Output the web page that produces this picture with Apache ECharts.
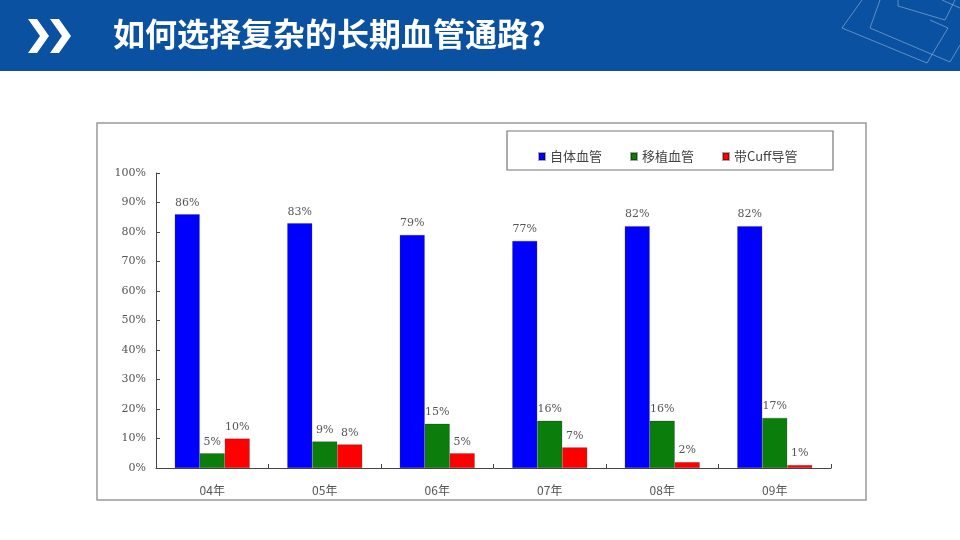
<!DOCTYPE html>
<html>
<head>
<meta charset="utf-8">
<script src="https://cdn.jsdelivr.net/npm/echarts@6/dist/echarts.min.js"></script>
<style>
  html, body { margin: 0; padding: 0; background: #fff; }
  #chart { width: 960px; height: 540px; }
</style>
</head>
<body>
<div id="chart"></div>
<script>
  var years = ['04年', '05年', '06年', '07年', '08年', '09年'];
  var autologous = [86, 83, 79, 77, 82, 82];   // 自体血管
  var graft = [5, 9, 15, 16, 16, 17];          // 移植血管
  var cuffCatheter = [10, 8, 5, 7, 2, 1];      // 带Cuff导管
  var yTicks = [0, 10, 20, 30, 40, 50, 60, 70, 80, 90, 100];

  var chart = echarts.init(document.getElementById('chart'));

  var labelFont = 'DejaVu Serif, Liberation Serif, serif';
  var thin = 'rgba(255,255,255,0.35)';

  function barSeries(name, data, color) {
    return {
      name: name,
      type: 'bar',
      data: data,
      barWidth: 25,
      barGap: '0%',
      itemStyle: { color: color, borderColor: 'rgba(0,0,0,0.35)', borderWidth: 0.6 },
      label: {
        show: true,
        position: 'top',
        distance: 6,
        formatter: '{c}%',
        color: '#555',
        fontSize: 11,
        fontFamily: labelFont
      }
    };
  }

  var option = {
    animation: false,
    backgroundColor: '#fff',
    grid: { left: 156, right: 129, top: 173, bottom: 72 },
    legend: {
      left: 533,
      top: 145,
      itemWidth: 6,
      itemHeight: 7,
      itemGap: 28,
      icon: 'rect',
      textStyle: { color: '#444', fontSize: 13, fontFamily: 'Noto Sans CJK SC' },
      data: ['自体血管', '移植血管', '带Cuff导管']
    },
    xAxis: {
      type: 'category',
      data: years,
      axisLine: { lineStyle: { color: '#444', width: 1 } },
      axisTick: { show: true, inside: true, length: 4, lineStyle: { color: '#444' } },
      axisLabel: { color: '#555', fontSize: 12, margin: 16, fontFamily: 'Noto Sans CJK SC' }
    },
    yAxis: {
      type: 'value',
      min: 0,
      max: 100,
      interval: 10,
      splitLine: { show: false },
      axisLine: { show: true, lineStyle: { color: '#444', width: 1 } },
      axisTick: { show: true, inside: true, length: 4, lineStyle: { color: '#444' } },
      axisLabel: {
        color: '#555',
        fontSize: 11,
        margin: 10,
        fontFamily: labelFont,
        formatter: function (v) { return yTicks.indexOf(v) >= 0 ? v + '%' : ''; }
      }
    },
    graphic: [
      // header bar
      { type: 'rect', shape: { x: 0, y: 0, width: 960, height: 71 }, style: { fill: '#0a52a1' }, z: 0 },
      // decorative lines
      { type: 'polyline', shape: { points: [[862, 0], [842, 28], [927, 63], [948, 28], [930, 20]] }, style: { stroke: thin, fill: null, lineWidth: 1 } },
      { type: 'polyline', shape: { points: [[880, 0], [870, 28], [950, 62], [960, 45]] }, style: { stroke: thin, fill: null, lineWidth: 1 } },
      { type: 'polyline', shape: { points: [[898, 0], [898, 6], [945, 20], [955, 0]] }, style: { stroke: thin, fill: null, lineWidth: 1 } },
      { type: 'polyline', shape: { points: [[942, 0], [960, 8]] }, style: { stroke: thin, fill: null, lineWidth: 1 } },
      // chevrons
      { type: 'polygon', shape: { points: [[28, 19], [37, 19], [49, 36], [37, 53], [28, 53], [40, 36]] }, style: { fill: '#fff' } },
      { type: 'polygon', shape: { points: [[50, 19], [59, 19], [71, 36], [59, 53], [50, 53], [62, 36]] }, style: { fill: '#fff' } },
      // title
      {
        type: 'text', left: 113, top: 18,
        style: { text: '如何选择复杂的长期血管通路?', fill: '#fff', font: 'bold 32px "Noto Sans CJK SC"' }
      },
      // chart frame
      { type: 'rect', shape: { x: 97, y: 123, width: 769, height: 377 }, style: { fill: null, stroke: '#999', lineWidth: 1.5 }, z: -1 },
      // legend box
      { type: 'rect', shape: { x: 507, y: 131, width: 326, height: 39 }, style: { fill: null, stroke: '#777', lineWidth: 1.2 } }
    ],
    series: [
      barSeries('自体血管', autologous, '#0000ff'),
      barSeries('移植血管', graft, '#0a7d0a'),
      barSeries('带Cuff导管', cuffCatheter, '#ff0000')
    ]
  };

  chart.setOption(option);
</script>
</body>
</html>
